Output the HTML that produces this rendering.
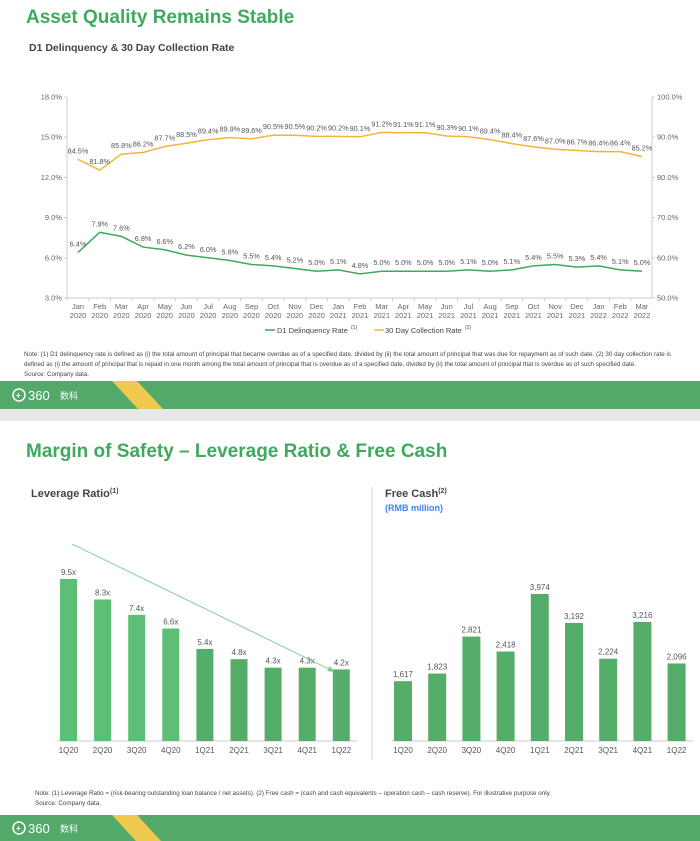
<!DOCTYPE html>
<html><head><meta charset="utf-8"><style>
body{margin:0;background:#fff;width:700px;height:841px;overflow:hidden;font-family:"Liberation Sans","Noto Sans CJK SC",sans-serif}
svg{display:block}
</style></head><body>
<svg id="s" width="700" height="841" viewBox="0 0 700 841" xmlns="http://www.w3.org/2000/svg" font-family="Liberation Sans, Noto Sans CJK SC, sans-serif">
<text x="26" y="23" font-size="19" font-weight="bold" fill="#3fa95e">Asset Quality Remains Stable</text>
<text x="29" y="51" font-size="10.5" font-weight="bold" fill="#444">D1 Delinquency &amp; 30 Day Collection Rate</text>
<g id="c1"></g>
<text x="24" y="356" font-size="6" fill="#444" textLength="647" lengthAdjust="spacingAndGlyphs">Note: (1) D1 delinquency rate is defined as (i) the total amount of principal that became overdue as of a specified date, divided by (ii) the total amount of principal that was due for repayment as of such date. (2) 30 day collection rate is</text>
<text x="24" y="366" font-size="6" fill="#444" textLength="612" lengthAdjust="spacingAndGlyphs">defined as (i) the amount of principal that is repaid in one month among the total amount of principal that is overdue as of a specified date, divided by (ii) the total amount of principal that is overdue as of such specified date.</text>
<text x="24" y="376" font-size="6" fill="#444" textLength="65" lengthAdjust="spacingAndGlyphs">Source: Company data.</text>
<rect x="0" y="381" width="700" height="28" fill="#52a96a"/>
<polygon points="112,381 137,381 163,409 138,409" fill="#f0c94f"/>
<rect x="0" y="409" width="700" height="12" fill="#e8e8e8"/>
<g fill="#fff"><circle cx="19" cy="395" r="6" fill="none" stroke="#fff" stroke-width="1.5"/><text x="16" y="398" font-size="8" font-weight="bold">+</text><text x="28" y="400" font-size="13">360</text><text x="60" y="399" font-size="9">数科</text></g>
<text x="26" y="457" font-size="19" font-weight="bold" fill="#3fa95e">Margin of Safety – Leverage Ratio &amp; Free Cash</text>
<text x="31" y="497" font-size="11" font-weight="bold" fill="#444">Leverage Ratio<tspan font-size="7" dy="-4">(1)</tspan></text>
<text x="385" y="497" font-size="11" font-weight="bold" fill="#444">Free Cash<tspan font-size="7" dy="-4">(2)</tspan></text>
<text x="385" y="511" font-size="9" font-weight="bold" fill="#3b82f6">(RMB million)</text>
<line x1="372" y1="487" x2="372" y2="760" stroke="#ddd" stroke-width="1.2"/>
<g id="c2"></g>
<text x="35" y="795" font-size="6" fill="#444" textLength="516" lengthAdjust="spacingAndGlyphs">Note: (1) Leverage Ratio = (risk-bearing outstanding loan balance / net assets). (2) Free cash = (cash and cash equivalents – operation cash – cash reserve). For illustrative purpose only.</text>
<text x="35" y="805" font-size="6" fill="#444" textLength="66" lengthAdjust="spacingAndGlyphs">Source: Company data.</text>
<rect x="0" y="815" width="700" height="26" fill="#52a96a"/>
<polygon points="112,815 137,815 161,841 136,841" fill="#f0c94f"/>
<g fill="#fff"><circle cx="19" cy="828" r="6" fill="none" stroke="#fff" stroke-width="1.5"/><text x="16" y="831" font-size="8" font-weight="bold">+</text><text x="28" y="833" font-size="13">360</text><text x="60" y="832" font-size="9">数科</text></g>
</svg>
<script>
const NS="http://www.w3.org/2000/svg";
function el(p,t,a,txt){const e=document.createElementNS(NS,t);for(const k in a)e.setAttribute(k,a[k]);if(txt!==undefined)e.textContent=txt;p.appendChild(e);return e;}
const c1=document.getElementById('c1');
const g=[6.4,7.9,7.6,6.8,6.6,6.2,6.0,5.8,5.5,5.4,5.2,5.0,5.1,4.8,5.0,5.0,5.0,5.0,5.1,5.0,5.1,5.4,5.5,5.3,5.4,5.1,5.0];
const o=[84.5,81.8,85.8,86.2,87.7,88.5,89.4,89.9,89.6,90.5,90.5,90.2,90.2,90.1,91.2,91.1,91.1,90.3,90.1,89.4,88.4,87.6,87.0,86.7,86.4,86.4,85.2];
const mon=["Jan","Feb","Mar","Apr","May","Jun","Jul","Aug","Sep","Oct","Nov","Dec"];
const X=i=>78+i*21.69, yL=v=>298-(v-3)*13.4, yR=v=>298-(v-50)*4.02;
el(c1,'line',{x1:67,y1:97,x2:67,y2:298,stroke:'#ccc'});
el(c1,'line',{x1:652,y1:97,x2:652,y2:298,stroke:'#ccc'});
el(c1,'line',{x1:67,y1:298,x2:652,y2:298,stroke:'#ccc'});
for(let k=0;k<6;k++){const v=3+3*k,y=yL(v);el(c1,'text',{x:62,y:y+2.5,'font-size':7.5,fill:'#666','text-anchor':'end'},v.toFixed(1)+'%');el(c1,'line',{x1:64,y1:y,x2:67,y2:y,stroke:'#ccc'});
const r=50+10*k,yr=yR(r);el(c1,'text',{x:657,y:yr+2.5,'font-size':7.5,fill:'#666'},r.toFixed(1)+'%');el(c1,'line',{x1:652,y1:yr,x2:655,y2:yr,stroke:'#ccc'});}
for(let i=0;i<27;i++){const x=X(i);el(c1,'line',{x1:x-10.85,y1:298,x2:x-10.85,y2:301,stroke:'#ccc'});
el(c1,'text',{x:x,y:309,'font-size':7.5,fill:'#666','text-anchor':'middle'},mon[i%12]);
el(c1,'text',{x:x,y:318,'font-size':7.5,fill:'#666','text-anchor':'middle'},2020+Math.floor(i/12));}
el(c1,'polyline',{points:g.map((v,i)=>X(i)+','+yL(v)).join(' '),fill:'none',stroke:'#3fa95e','stroke-width':1.5});
el(c1,'polyline',{points:o.map((v,i)=>X(i)+','+yR(v)).join(' '),fill:'none',stroke:'#f0b63a','stroke-width':1.5});
g.forEach((v,i)=>el(c1,'text',{x:X(i),y:yL(v)-6,'font-size':7.3,fill:'#555','text-anchor':'middle'},v.toFixed(1)+'%'));
o.forEach((v,i)=>el(c1,'text',{x:X(i),y:yR(v)-6,'font-size':7.3,fill:'#555','text-anchor':'middle'},v.toFixed(1)+'%'));
el(c1,'line',{x1:265,y1:330,x2:275,y2:330,stroke:'#3fa95e','stroke-width':1.5});
el(c1,'text',{x:277,y:333,'font-size':7.5,fill:'#444'},'D1 Delinquency Rate');
el(c1,'text',{x:351,y:329,'font-size':5,fill:'#444'},'(1)');
el(c1,'line',{x1:374,y1:330,x2:384,y2:330,stroke:'#f0b63a','stroke-width':1.5});
el(c1,'text',{x:385,y:333,'font-size':7.5,fill:'#444'},'30 Day Collection Rate');
el(c1,'text',{x:465,y:329,'font-size':5,fill:'#444'},'(2)');
const c2=document.getElementById('c2');
const q=["1Q20","2Q20","3Q20","4Q20","1Q21","2Q21","3Q21","4Q21","1Q22"];
const lv=[9.5,8.3,7.4,6.6,5.4,4.8,4.3,4.3,4.2];
const fc=[1617,1823,2821,2418,3974,3192,2224,3216,2096];
el(c2,'line',{x1:57,y1:741,x2:357,y2:741,stroke:'#ccc'});
el(c2,'line',{x1:392,y1:741,x2:693,y2:741,stroke:'#ccc'});
lv.forEach((v,i)=>{const cx=68.5+i*34.1,h=v*17.05;el(c2,'rect',{x:cx-8.5,y:741-h,width:17,height:h,fill:i<4?'#5cbf75':'#55ad6a'});
el(c2,'text',{x:cx,y:741-h-4,'font-size':8,fill:'#555','text-anchor':'middle'},v.toFixed(1)+'x');
el(c2,'text',{x:cx,y:753,'font-size':8,fill:'#555','text-anchor':'middle'},q[i]);});
el(c2,'line',{x1:72,y1:544,x2:331,y2:670,stroke:'#6fcf8a','stroke-width':0.9});
el(c2,'polygon',{points:'334,672 327,671 330,666',fill:'#6fcf8a'});
fc.forEach((v,i)=>{const cx=403+i*34.2,h=v*0.037;el(c2,'rect',{x:cx-9,y:741-h,width:18,height:h,fill:'#55ad6a'});
el(c2,'text',{x:cx,y:741-h-4,'font-size':8,fill:'#555','text-anchor':'middle'},v.toLocaleString('en-US'));
el(c2,'text',{x:cx,y:753,'font-size':8,fill:'#555','text-anchor':'middle'},q[i]);});
</script>
</body></html>
